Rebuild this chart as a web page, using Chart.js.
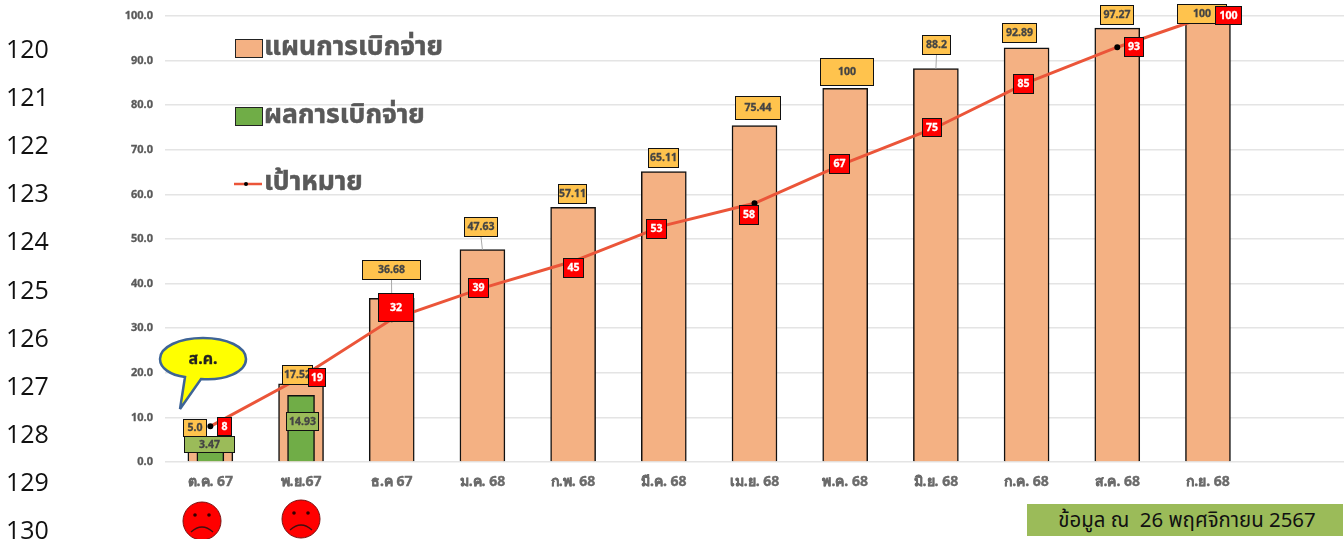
<!DOCTYPE html>
<html>
<head>
<meta charset="utf-8">
<script src="https://cdn.jsdelivr.net/npm/chart.js@4"></script>
<style>
  body { margin: 0; background: #fff; }
  #wrap { position: relative; width: 1344px; height: 539px; overflow: hidden; font-family: "Noto Sans", "Noto Sans Thai", sans-serif; }
  canvas { position: absolute; left: 0; top: 0; }
  .row { position: absolute; left: 6px; font: 25px "Open Sans", sans-serif; color: #111; line-height: 30px; }
  .swatch { position: absolute; left: 235px; width: 26px; height: 17px; border: 1px solid #222; }
  .legend { position: absolute; left: 264px; font-weight: 700; font-size: 26.5px; line-height: 30px; color: #595959; white-space: nowrap; -webkit-text-stroke: 0.5px #595959; }
  #footer { position: absolute; left: 1027px; top: 504px; width: 312px; padding-left: 4px; height: 32px; background: #9BBB59; color: #111; font-size: 20.4px; line-height: 30px; text-align: center; white-space: pre; }
  svg { position: absolute; left: 0; top: 0; }
</style>
</head>
<body>
<div id="wrap">
  <canvas id="chart" width="1344" height="539"></canvas>
  <svg width="1344" height="539">
    <path d="M185 377 L180 409 L201 379 C225 381 246 372 246 359 C246 347 227 338 203 338 C179 338 160 347 160 359 C160 368 170 375 185 377 Z" fill="#FFFF00" stroke="#3E6496" stroke-width="2.5"/>
    <text x="203" y="364" text-anchor="middle" font-size="16" font-weight="700" fill="#222" stroke="#222" stroke-width="0.3">ส.ค.</text>
    <g id="faces"></g>
  </svg>
  <div class="swatch" style="top:39px;background:#F4B183"></div>
  <div class="legend" style="top:30px">แผนการเบิกจ่าย</div>
  <div class="swatch" style="top:107px;background:#70AD47"></div>
  <div class="legend" style="top:98px">ผลการเบิกจ่าย</div>
  <svg width="1344" height="539">
    <line x1="234" y1="184" x2="262" y2="184" stroke="#EB5539" stroke-width="2.5"/>
    <circle cx="246" cy="184" r="2" fill="#000"/>
  </svg>
  <div class="legend" style="top:165px">เป้าหมาย</div>
  <div id="footer">ข้อมูล ณ  26 พฤศจิกายน 2567</div>
</div>
<script>
// last label is blank, the gridlines run on past the last bar
const months = ['ต.ค. 67', 'พ.ย.67', 'ธ.ค 67', 'ม.ค. 68', 'ก.พ. 68', 'มี.ค. 68', 'เม.ย. 68', 'พ.ค. 68', 'มิ.ย. 68', 'ก.ค. 68', 'ส.ค. 68', 'ก.ย. 68', ''];
const planValues = [5.0, 17.52, 36.68, 47.63, 57.11, 65.11, 75.44, 83.8, 88.2, 92.89, 97.27, 100];
const planLabels = ['5.0', '17.52', '36.68', '47.63', '57.11', '65.11', '75.44', '100', '88.2', '92.89', '97.27', '100'];
const actualValues = [3.47, 14.93];
const targetValues = [8, 19, 32, 39, 45, 53, 58, 67, 75, 85, 93, 100];
const rowNumbers = [120, 121, 122, 123, 124, 125, 126, 127, 128, 129, 130];

// label boxes: [left, top, width, height] on the page
const planBoxes = [[183,419,24,18],[282,365,31,20],[362,260,59,20],[464,217,34,20],[558,184,29,20],[648,148,31,20],[735,96,46,24],[820,58,54,28],[922,35,29,20],[1002,23,35,20],[1100,5,34,20],[1177,4,50,20]];
const actualBoxes = [[184,436,51,17],[286,412,33,19]];
const targetBoxes = [[217,417,15,19],[308,368,18,19],[378,293,36,29],[468,278,21,20],[563,258,21,20],[646,219,21,20],[739,205,20,20],[829,154,21,20],[922,118,20,19],[1013,74,21,20],[1124,37,20,20],[1215,6,27,19]];
// only these plan labels have a leader line down to the bar
const leaderIndexes = [2, 3, 8];

const wrap = document.getElementById('wrap');
rowNumbers.forEach((n, i) => {
  const d = document.createElement('div');
  d.className = 'row';
  d.textContent = n;
  d.style.top = (33 + i * 48.1) + 'px';
  wrap.appendChild(d);
});

// sad faces under the two months already reported
let faces = '';
[[202, 521], [301, 519]].forEach(([x, y]) => {
  faces += `<circle cx="${x}" cy="${y}" r="19" fill="#FF0000" stroke="#7a1010" stroke-width="1"/>` +
    `<circle cx="${x - 7}" cy="${y - 6}" r="1.8" fill="#300"/><circle cx="${x + 7}" cy="${y - 6}" r="1.8" fill="#300"/>` +
    `<path d="M${x - 11} ${y + 11} Q${x} ${y + 1} ${x + 11} ${y + 11}" fill="none" stroke="#401010" stroke-width="1.3"/>`;
});
document.getElementById('faces').innerHTML = faces;

function drawBox(ctx, box, text, fill, color, size) {
  ctx.fillStyle = fill;
  ctx.strokeStyle = '#111';
  ctx.lineWidth = 1;
  ctx.fillRect(box[0], box[1], box[2], box[3]);
  ctx.strokeRect(box[0] + 0.5, box[1] + 0.5, box[2] - 1, box[3] - 1);
  ctx.fillStyle = color;
  ctx.strokeStyle = color;
  ctx.lineWidth = 0.3;
  ctx.font = '700 ' + size + 'px "Noto Sans", sans-serif';
  ctx.textAlign = 'center';
  ctx.textBaseline = 'middle';
  ctx.fillText(text, box[0] + box[2] / 2, box[1] + box[3] / 2 + 0.5);
  ctx.strokeText(text, box[0] + box[2] / 2, box[1] + box[3] / 2 + 0.5);
}

const boxLabels = {
  id: 'boxLabels',
  afterDatasetsDraw(chart) {
    const ctx = chart.ctx;
    const planMeta = chart.getDatasetMeta(0);
    ctx.save();
    ctx.strokeStyle = '#aaa';
    ctx.lineWidth = 1;
    leaderIndexes.forEach(i => {
      const b = planBoxes[i];
      const bar = planMeta.data[i];
      ctx.beginPath();
      ctx.moveTo(b[0] + b[2] / 2, b[1] + b[3]);
      ctx.lineTo(bar.x, bar.y);
      ctx.stroke();
    });
    planBoxes.forEach((b, i) => drawBox(ctx, b, planLabels[i], '#FFC34D', '#444', 10.5));
    actualBoxes.forEach((b, i) => drawBox(ctx, b, actualValues[i], '#9BBB59', '#444', 10.5));
    targetBoxes.forEach((b, i) => drawBox(ctx, b, targetValues[i], '#FF0000', '#fff', 10.5));
    ctx.restore();
  }
};

new Chart(document.getElementById('chart'), {
  type: 'bar',
  data: {
    labels: months,
    datasets: [
      { label: 'แผนการเบิกจ่าย', data: planValues, backgroundColor: '#F4B183', borderColor: '#111', borderWidth: { top: 1.5, left: 1.5, right: 1.5, bottom: 0 }, barThickness: 45, grouped: false, order: 3 },
      { label: 'ผลการเบิกจ่าย', data: actualValues, backgroundColor: '#70AD47', borderColor: '#111', borderWidth: { top: 1.5, left: 1.5, right: 1.5, bottom: 0 }, barThickness: 27, grouped: false, order: 2 },
      { type: 'line', label: 'เป้าหมาย', data: targetValues, borderColor: '#EB5539', borderWidth: 3, pointRadius: 1.5, pointBackgroundColor: '#000', pointBorderColor: '#000', tension: 0, order: 1 }
    ]
  },
  options: {
    responsive: false,
    animation: false,
    layout: { autoPadding: false, padding: { top: 16 } },
    plugins: { legend: { display: false }, tooltip: { enabled: false } },
    scales: {
      x: {
        grid: { display: false },
        border: { display: false },
        afterFit(scale) { scale.height = 77; },
        ticks: { color: '#6b6b6b', textStrokeColor: '#6b6b6b', textStrokeWidth: 0.4, font: { size: 14, weight: '700', family: '"Noto Sans", sans-serif' }, padding: 4, maxRotation: 0, autoSkip: false }
      },
      y: {
        min: 0,
        max: 100,
        afterFit(scale) {
          scale.width = 165;
          scale.paddingTop = 0;
          scale.paddingBottom = 0;
        },
        grid: { color: '#E4E4E4', lineWidth: 1.5, drawTicks: false },
        border: { display: false },
        ticks: { stepSize: 10, color: '#595959', textStrokeColor: '#595959', textStrokeWidth: 0.3, padding: 12, font: { size: 11, weight: '700', family: '"Noto Sans", sans-serif' }, callback: v => v.toFixed(1) }
      }
    }
  },
  plugins: [boxLabels]
});
</script>
</body>
</html>
